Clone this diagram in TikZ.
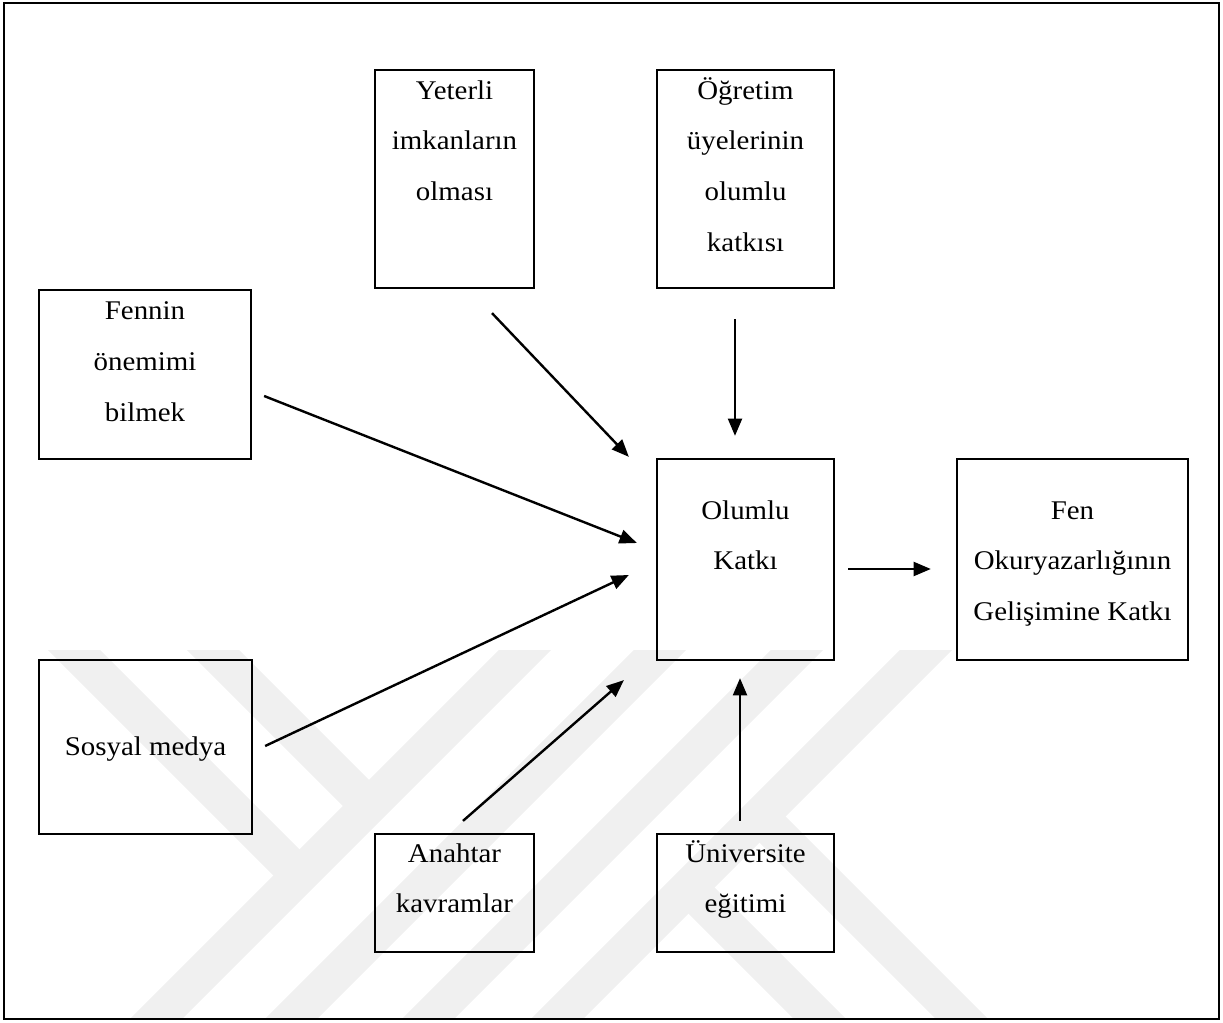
\documentclass[tikz,border=0pt]{standalone}
\usepackage{fontspec}
\setmainfont[FakeStretch=1.07]{Liberation Serif}
\usetikzlibrary{arrows.meta,calc,fit}
\begin{document}
\begin{tikzpicture}[x=0.75pt,y=-0.75pt,
  box/.style={draw, line width=1.7pt, inner sep=0pt},
  lbl/.style={align=center, inner sep=0pt, anchor=base,
    font=\fontsize{20.25}{38}\selectfont},
  arr/.style={line width=1.8pt, -{Triangle[length=13pt,width=10.5pt]}},
  wm/.style={line width=27.75pt, color=black!6}]
\useasboundingbox (0,0) rectangle (1223,1023);

% faint background emblem made of diagonal bands
\begin{scope}
  \clip (5,650) rectangle (1218,1018);
  \draw[wm] (24,600) -- (299.5,875.5);
  \draw[wm] (163,600) -- (369,806);
  \draw[wm] (575,600) -- (100,1075);
  \draw[wm] (710,600) -- (235,1075);
  \draw[wm] (847,600) -- (372,1075);
  \draw[wm] (976,600) -- (501,1075);
  \draw[wm] (759.5,816.5) -- (1030,1087);
  \draw[wm] (688.5,887.5) -- (900,1099);
\end{scope}

% outer frame
\draw[line width=1.6pt] (4,3) rectangle (1219,1019);

% boxes
\node[box, fit={(375,70) (534,288)}] (yet) {};
\node[box, fit={(657,70) (834,288)}] (ogr) {};
\node[box, fit={(39,290) (251,459)}] (fnn) {};
\node[box, fit={(657,459) (834,660)}] (olk) {};
\node[box, fit={(957,459) (1188,660)}] (fok) {};
\node[box, fit={(39,660) (252,834)}] (sos) {};
\node[box, fit={(375,834) (534,952)}] (anh) {};
\node[box, fit={(657,834) (834,952)}] (uni) {};

% labels (placed by the baseline of their last line)
\node[lbl] (yet-t) at (454.5,200.6) {Yeterli\\imkanların\\olması};
\node[lbl] (ogr-t) at (745.5,251.3) {Öğretim\\üyelerinin\\olumlu\\katkısı};
\node[lbl] (fnn-t) at (145,421.3) {Fennin\\önemimi\\bilmek};
\node[lbl] (olk-t) at (745.5,569.7) {Olumlu\\Katkı};
\node[lbl] (fok-t) at (1072.5,620.6) {Fen\\Okuryazarlığının\\Gelişimine Katkı};
\node[lbl] (sos-t) at (145.5,755) {Sosyal medya};
\node[lbl] (anh-t) at (454.5,912.7) {Anahtar\\kavramlar};
\node[lbl] (uni-t) at (745.5,912.7) {Üniversite\\eğitimi};

% arrow end points
\coordinate (yet-o) at ($(yet.south)+(37.5,24)$);
\coordinate (yet-i) at ($(olk.north west)+(-27,-1)$);
\coordinate (ogr-o) at ($(ogr.south)+(-10.5,30)$);
\coordinate (ogr-i) at ($(olk.north)+(-10.5,-22)$);
\coordinate (fnn-o) at ($(fnn.east)+(12,21.5)$);
\coordinate (fnn-i) at ($(olk.west)+(-19,-16.5)$);
\coordinate (sos-o) at ($(sos.east)+(12,-1)$);
\coordinate (sos-i) at ($(olk.west)+(-27,15.5)$);
\coordinate (anh-o) at ($(anh.north)+(8.5,-12)$);
\coordinate (anh-i) at ($(olk.south west)+(-32,19)$);
\coordinate (uni-o) at ($(uni.north)+(-5.5,-12)$);
\coordinate (uni-i) at ($(olk.south)+(-5.5,17)$);
\coordinate (olk-o) at ($(olk.east)+(13,9.5)$);
\coordinate (fok-i) at ($(fok.west)+(-25,9.5)$);

% connectors
\draw[arr] (yet-o) -- (yet-i);
\draw[arr] (ogr-o) -- (ogr-i);
\draw[arr] (fnn-o) -- (fnn-i);
\draw[arr] (sos-o) -- (sos-i);
\draw[arr] (anh-o) -- (anh-i);
\draw[arr] (uni-o) -- (uni-i);
\draw[arr] (olk-o) -- (fok-i);
\end{tikzpicture}
\end{document}
